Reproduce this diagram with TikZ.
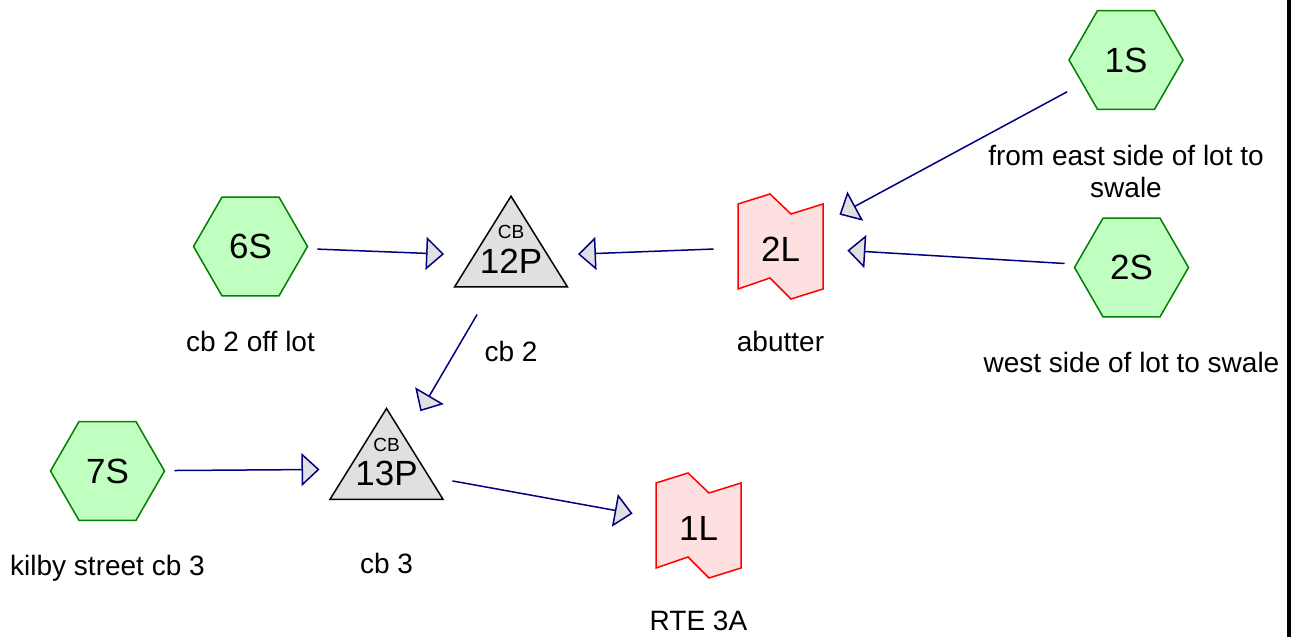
\documentclass[tikz,border=0pt]{standalone}
\usepackage{fontspec}
\setmainfont{Liberation Sans}
\usetikzlibrary{shapes.geometric,arrows.meta}
\definecolor{subgreen}{RGB}{0,128,0}
\definecolor{subfill}{RGB}{192,255,192}
\definecolor{linkred}{RGB}{255,0,0}
\definecolor{linkfill}{RGB}{255,224,224}
\definecolor{pondfill}{RGB}{224,224,224}
\definecolor{flowblue}{RGB}{0,0,128}

\tikzset{
  sub/.style={regular polygon, regular polygon sides=6, minimum size=114pt, inner sep=0pt, draw=subgreen, fill=subfill, line width=1.5pt, font=\fontsize{35}{42}\selectfont},
  linkline/.style={draw=linkred, fill=linkfill, line width=1.5pt},
  linktxt/.style={inner sep=0pt, yshift=-2.5pt, font=\fontsize{35}{42}\selectfont},
  pondline/.style={draw=black, fill=pondfill, line width=1.5pt},
  pondtxt/.style={inner sep=0pt, anchor=base, font=\fontsize{35}{42}\selectfont},
  cbtxt/.style={inner sep=0pt, anchor=base, font=\fontsize{19}{22}\selectfont},
  lbl/.style={inner sep=0pt, text height=20pt, text depth=6pt, font=\fontsize{28}{32}\selectfont},
  flow/.style={draw=flowblue, line width=1.5pt, shorten <=67pt, shorten >=67pt, -{Triangle[length=18pt,width=33pt,fill=pondfill]}}
}

\newcommand\pondshape[1]{\draw[pondline] ([yshift=60.5pt]#1) -- ([xshift=56.5pt,yshift=-30.3pt]#1) -- ([xshift=-56.5pt,yshift=-30.3pt]#1) -- cycle;}
\newcommand\linkshape[1]{\draw[linkline] ([xshift=-42.5pt,yshift=42.5pt]#1) -- ([xshift=-10.5pt,yshift=52.5pt]#1) -- ([xshift=10.5pt,yshift=32.5pt]#1) -- ([xshift=42.5pt,yshift=42.5pt]#1) -- ([xshift=42.5pt,yshift=-42.5pt]#1) -- ([xshift=10.5pt,yshift=-52.5pt]#1) -- ([xshift=-10.5pt,yshift=-31.5pt]#1) -- ([xshift=-42.5pt,yshift=-42.5pt]#1) -- cycle;}

\begin{document}
\begin{tikzpicture}[x=1pt,y=1pt,node distance=98pt]
\useasboundingbox (0,0) rectangle (1301,637);

\node[sub] (sub1) at (1126,577) {1S};
\node[sub] (sub2) at (1131.5,369.5) {2S};
\node[sub] (sub6) at (250.5,390.5) {6S};
\node[sub] (sub7) at (107.5,166) {7S};

\coordinate (pond12) at (511,380.3);
\pondshape{pond12}
\node[cbtxt] (cb12) at ([yshift=17.7pt]pond12) {CB};
\node[pondtxt] (num12) at ([yshift=-16.6pt]pond12) {12P};

\coordinate (pond13) at (386.5,168);
\pondshape{pond13}
\node[cbtxt] (cb13) at ([yshift=17.7pt]pond13) {CB};
\node[pondtxt] (num13) at ([yshift=-16.6pt]pond13) {13P};

\coordinate (link2) at (780.5,390.5);
\linkshape{link2}
\node[linktxt] (link2txt) at (link2) {2L};

\coordinate (link1) at (698.5,111.5);
\linkshape{link1}
\node[linktxt] (link1txt) at (link1) {1L};

\node[lbl, align=center, text height=, text depth=, below of=sub1, yshift=-13pt] (lbl1) {from east side of lot to\\swale};
\node[lbl, below of=sub2] (lbl2) {west side of lot to swale};
\node[lbl, below of=sub6] (lbl6) {cb 2 off lot};
\node[lbl, below of=sub7] (lbl7) {kilby street cb 3};
\node[lbl, below of=pond12] (lbl12) {cb 2};
\node[lbl, below of=pond13] (lbl13) {cb 3};
\node[lbl, below of=link2] (lbll2) {abutter};
\node[lbl, below of=link1] (lbll1) {RTE 3A};

\draw[flow] (sub6.center) -- (pond12);
\draw[flow] (link2) -- (pond12);
\draw[flow] (sub1.center) -- (link2);
\draw[flow] (sub2.center) -- (link2);
\draw[flow] (pond12) -- (pond13);
\draw[flow] (sub7.center) -- (pond13);
\draw[flow] (pond13) -- (link1);

\draw[line width=4pt] (1289,0) -- (1289,637);
\end{tikzpicture}
\end{document}
